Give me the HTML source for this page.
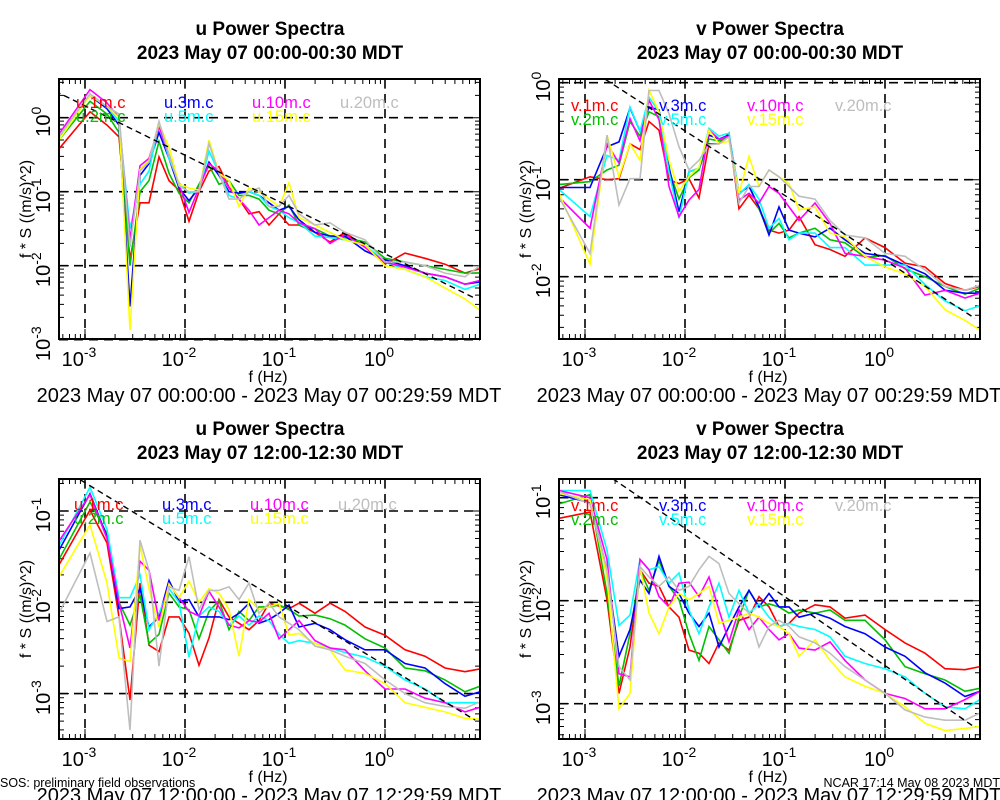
<!DOCTYPE html>
<html><head><meta charset="utf-8"><style>
html,body{margin:0;padding:0;background:#fff;}
svg{display:block;font-family:"Liberation Sans",sans-serif;}
</style></head><body>
<svg id="chart" width="1000" height="800" viewBox="0 0 1000 800" xmlns="http://www.w3.org/2000/svg"></svg>
<script>
// log10 frequency grid (Hz)
const logFreq = [-3.26,-2.95,-2.78,-2.66,-2.55,-2.45,-2.36,-2.26,-2.16,-2.06,-1.96,-1.86,-1.76,-1.66,-1.56,-1.46,-1.36,-1.26,-1.16,-1.06,-0.96,-0.86,-0.7,-0.55,-0.4,-0.2,0,0.2,0.4,0.6,0.8,0.95];
const heights = ["1m","2m","3m","5m","10m","15m","20m"];
// legend order
const legendOrder = ["1m","3m","10m","20m","2m","5m","15m"];
const seriesColors = {"1m":"#ff0000","2m":"#00c000","3m":"#0000ff","5m":"#00ffff","10m":"#ff00ff","15m":"#ffff00","20m":"#bebebe"};
const xTickExps = [-3,-2,-1,0];

// Panel 1: u 00:00 (log10 f*S)
const u0_1m  = [-0.42,0.08,-0.1,-0.26,-1.92,-1.15,-1.15,-0.53,-0.85,-0.98,-1.4,-1.0,-0.72,-0.66,-0.94,-1.1,-1.3,-1.27,-1.45,-1.3,-1.45,-1.45,-1.55,-1.68,-1.55,-1.75,-1.98,-1.83,-1.9,-1.98,-2.1,-2.04];
const u0_2m  = [-0.3,0.22,0.05,-0.2,-2.0,-1.0,-0.85,-0.32,-0.75,-1.02,-1.15,-0.9,-0.65,-0.9,-0.85,-1.05,-1.05,-1.1,-1.25,-1.3,-1.18,-1.45,-1.5,-1.6,-1.62,-1.68,-1.9,-1.95,-2.0,-2.05,-2.1,-2.1];
const u0_3m  = [-0.24,0.3,0.12,-0.1,-2.55,-0.78,-0.62,-0.2,-0.55,-0.95,-1.12,-0.95,-0.6,-0.78,-1.0,-1.02,-1.0,-1.05,-1.15,-1.25,-1.2,-1.38,-1.55,-1.6,-1.6,-1.8,-1.92,-2.0,-2.1,-2.15,-2.25,-2.22];
const u0_5m  = [-0.26,0.32,0.15,-0.05,-1.5,-0.9,-0.72,-0.08,-0.55,-0.88,-1.02,-1.0,-0.45,-0.75,-1.05,-1.1,-1.0,-1.05,-1.2,-1.25,-1.35,-1.42,-1.6,-1.62,-1.65,-1.72,-1.95,-2.05,-2.15,-2.2,-2.32,-2.25];
const u0_10m = [-0.22,0.38,0.2,0.0,-1.65,-0.65,-0.55,-0.12,-0.5,-0.9,-1.28,-0.95,-0.62,-0.72,-0.95,-1.1,-1.25,-1.45,-1.35,-1.25,-1.3,-1.42,-1.5,-1.7,-1.58,-1.75,-1.95,-2.02,-2.1,-2.15,-2.25,-2.2];
const u0_15m = [-0.3,0.3,0.15,0.0,-2.87,-0.7,-0.58,-0.08,-0.4,-0.9,-0.95,-0.98,-0.3,-0.75,-0.85,-1.2,-0.95,-1.0,-1.1,-1.2,-0.88,-1.35,-1.45,-1.55,-1.65,-1.72,-2.0,-2.05,-2.15,-2.3,-2.45,-2.6];
const u0_20m = [-0.25,0.32,0.15,0.05,-1.75,-0.72,-0.6,-0.05,-0.5,-0.92,-1.0,-1.0,-0.35,-0.75,-1.1,-1.1,-1.0,-0.95,-1.2,-1.2,-1.05,-1.3,-1.45,-1.42,-1.55,-1.65,-1.95,-1.95,-2.0,-2.1,-2.15,-2.0];

// Panel 2: v 00:00
const v0_1m  = [-1.09,-0.97,-1.0,-0.99,-0.63,-0.69,-0.4,-0.49,-1.0,-1.04,-0.99,-1.19,-0.63,-0.63,-0.52,-1.3,-1.16,-1.3,-1.52,-1.55,-1.52,-1.38,-1.67,-1.72,-1.79,-1.6,-1.7,-1.86,-1.9,-2.07,-2.14,-2.1];
const v0_2m  = [-1.05,-1.02,-0.9,-0.85,-0.4,-0.55,-0.3,-0.35,-0.9,-1.2,-0.98,-0.9,-0.58,-0.6,-0.55,-1.15,-1.05,-1.3,-1.55,-1.45,-1.6,-1.55,-1.5,-1.62,-1.65,-1.8,-1.78,-1.92,-2.0,-2.1,-2.18,-2.12];
const v0_3m  = [-1.08,-1.08,-0.66,-0.61,-0.26,-0.5,-0.25,-0.28,-0.87,-1.33,-0.92,-0.88,-0.54,-0.58,-0.54,-1.14,-1.07,-1.28,-1.57,-1.28,-1.52,-1.55,-1.59,-1.5,-1.62,-1.76,-1.79,-1.88,-1.97,-2.14,-2.17,-2.17];
const v0_5m  = [-1.1,-1.38,-0.75,-0.8,-0.25,-0.5,-0.15,-0.3,-0.92,-1.4,-0.92,-0.88,-0.47,-0.55,-0.52,-1.15,-1.05,-1.2,-1.5,-1.4,-1.62,-1.55,-1.55,-1.7,-1.7,-1.88,-1.88,-1.88,-2.08,-2.25,-2.35,-2.3];
const v0_10m = [-1.18,-1.5,-0.63,-0.83,-0.37,-0.6,-0.18,-0.38,-1.07,-1.38,-1.21,-1.1,-0.49,-0.58,-0.55,-1.21,-1.14,-1.24,-1.07,-1.14,-1.28,-1.42,-1.24,-1.45,-1.76,-1.79,-1.83,-1.91,-2.19,-2.14,-2.22,-2.17];
const v0_15m = [-1.14,-1.87,-0.54,-0.97,-0.63,-0.8,-0.08,-0.3,-0.8,-1.12,-0.97,-0.87,-0.49,-0.63,-0.6,-1.14,-0.76,-1.07,-0.9,-0.97,-1.04,-1.31,-1.28,-1.55,-1.59,-1.79,-1.9,-1.97,-2.1,-2.34,-2.45,-2.55];
const v0_20m = [-1.18,-1.76,-0.54,-1.26,-0.99,-0.99,-0.08,-0.08,-0.32,-0.66,-0.9,-0.8,-0.64,-0.63,-0.56,-1.24,-1.07,-1.07,-0.9,-0.97,-1.07,-1.17,-1.2,-1.42,-1.57,-1.6,-1.76,-1.79,-1.93,-2.1,-2.14,-2.09];

// Panel 3: u 12:00
const u12_1m  = [-1.59,-0.99,-1.35,-2.16,-3.07,-1.79,-2.47,-2.54,-2.16,-2.16,-2.34,-2.69,-2.39,-1.97,-2.16,-2.23,-2.3,-2.2,-2.01,-2.04,-2.07,-2.01,-2.12,-2.01,-2.1,-2.27,-2.36,-2.52,-2.59,-2.72,-2.76,-2.73];
const u12_2m  = [-1.53,-0.9,-1.25,-2.0,-2.25,-1.92,-2.45,-2.35,-1.9,-2.05,-2.08,-2.4,-2.1,-1.98,-2.3,-2.1,-2.2,-2.05,-2.05,-2.03,-2.08,-2.15,-2.14,-2.18,-2.25,-2.4,-2.5,-2.72,-2.75,-2.85,-2.98,-2.92];
const u12_3m  = [-1.43,-0.81,-1.28,-2.07,-2.05,-1.85,-2.27,-2.16,-1.76,-1.99,-1.97,-2.16,-2.16,-2.16,-2.19,-2.12,-2.01,-2.23,-2.19,-2.12,-2.03,-2.27,-2.23,-2.3,-2.41,-2.52,-2.52,-2.67,-2.72,-2.89,-3.03,-2.98];
const u12_5m  = [-1.38,-0.74,-1.2,-1.95,-1.95,-1.7,-2.3,-2.12,-1.85,-2.0,-2.6,-2.15,-2.05,-2.1,-2.25,-2.15,-2.25,-2.15,-2.2,-2.35,-2.45,-2.42,-2.45,-2.5,-2.55,-2.6,-2.7,-2.85,-2.95,-3.1,-3.1,-3.1];
const u12_10m = [-1.33,-0.82,-1.3,-2.0,-2.5,-1.55,-1.65,-2.2,-1.8,-1.95,-2.1,-2.15,-1.88,-2.05,-2.25,-2.28,-2.2,-2.22,-2.12,-2.4,-2.3,-2.2,-2.42,-2.5,-2.52,-2.75,-2.95,-2.95,-3.05,-3.1,-3.2,-3.15];
const u12_15m = [-1.72,-1.15,-1.79,-2.61,-2.65,-1.37,-1.85,-2.27,-1.8,-1.95,-1.77,-2.0,-1.85,-1.9,-2.08,-2.59,-1.97,-2.08,-2.05,-2.01,-2.36,-2.34,-2.45,-2.52,-2.74,-2.78,-2.89,-3.1,-3.15,-3.2,-3.27,-3.28];
const u12_20m = [-2.12,-1.46,-2.21,-2.16,-3.4,-1.32,-1.65,-2.7,-1.83,-1.87,-1.5,-2.08,-1.87,-1.87,-1.83,-1.97,-1.79,-2.12,-2.01,-2.16,-2.23,-2.3,-2.48,-2.52,-2.59,-2.67,-2.85,-3.0,-3.1,-3.14,-3.16,-3.09];

// Panel 4: v 12:00
const v12_1m  = [-1.2,-1.14,-1.99,-2.9,-2.45,-1.7,-1.83,-1.86,-2.06,-2.16,-2.48,-2.51,-2.61,-2.41,-2.48,-2.19,-2.16,-1.96,-2.06,-2.25,-2.22,-2.12,-2.04,-2.06,-2.17,-2.14,-2.28,-2.41,-2.51,-2.66,-2.67,-2.64];
const v12_2m  = [-1.06,-0.97,-1.93,-2.83,-2.32,-1.7,-1.9,-1.61,-1.86,-1.99,-2.32,-2.58,-2.25,-2.38,-2.51,-2.16,-1.9,-2.06,-2.03,-2.06,-2.12,-2.09,-2.12,-2.09,-2.19,-2.19,-2.38,-2.64,-2.71,-2.77,-2.88,-2.85];
const v12_3m  = [-0.97,-1.05,-1.7,-2.54,-2.28,-1.8,-1.93,-1.57,-1.86,-1.93,-2.12,-2.25,-2.12,-2.45,-2.25,-2.06,-1.9,-2.06,-1.93,-2.06,-2.06,-2.16,-2.12,-2.17,-2.25,-2.32,-2.45,-2.54,-2.7,-2.8,-2.93,-2.88];
const v12_5m  = [-0.93,-0.93,-1.51,-2.24,-2.14,-1.6,-1.7,-1.67,-1.83,-1.73,-2.09,-2.32,-2.06,-1.83,-2.16,-1.9,-2.12,-2.03,-2.16,-2.25,-2.22,-2.25,-2.28,-2.35,-2.54,-2.61,-2.66,-2.74,-2.9,-3.03,-3.05,-2.96];
const v12_10m = [-0.93,-1.0,-1.6,-2.71,-2.74,-1.6,-1.7,-1.96,-2.06,-1.83,-1.82,-1.96,-1.77,-2.09,-2.4,-2.09,-2.28,-2.16,-2.28,-2.38,-2.32,-2.46,-2.48,-2.4,-2.58,-2.77,-2.9,-2.95,-3.05,-3.05,-2.96,-2.88];
const v12_15m = [-0.96,-1.02,-1.77,-3.05,-2.9,-1.67,-2.12,-2.32,-2.06,-1.93,-1.99,-1.93,-1.86,-2.22,-2.19,-2.16,-2.12,-2.16,-2.22,-2.25,-2.32,-2.54,-2.38,-2.58,-2.74,-2.83,-2.9,-3.03,-3.19,-3.26,-3.24,-3.22];
const v12_20m = [-0.94,-1.06,-1.7,-2.64,-2.77,-1.67,-1.77,-1.86,-1.77,-1.9,-1.86,-1.7,-1.57,-1.64,-1.93,-2.03,-2.12,-2.45,-2.25,-2.19,-2.25,-2.35,-2.41,-2.51,-2.64,-2.77,-2.9,-3.06,-3.13,-3.16,-3.16,-3.09];

const panelSeries = [
  {"1m":u0_1m,"2m":u0_2m,"3m":u0_3m,"5m":u0_5m,"10m":u0_10m,"15m":u0_15m,"20m":u0_20m},
  {"1m":v0_1m,"2m":v0_2m,"3m":v0_3m,"5m":v0_5m,"10m":v0_10m,"15m":v0_15m,"20m":v0_20m},
  {"1m":u12_1m,"2m":u12_2m,"3m":u12_3m,"5m":u12_5m,"10m":u12_10m,"15m":u12_15m,"20m":u12_20m},
  {"1m":v12_1m,"2m":v12_2m,"3m":v12_3m,"5m":v12_5m,"10m":v12_10m,"15m":v12_15m,"20m":v12_20m}
];
const panelVar = ["u","v","u","v"];
const panelTitle2 = ["2023 May 07 00:00-00:30 MDT","2023 May 07 00:00-00:30 MDT","2023 May 07 12:00-12:30 MDT","2023 May 07 12:00-12:30 MDT"];
const panelRange = ["2023 May 07 00:00:00 - 2023 May 07 00:29:59 MDT","2023 May 07 00:00:00 - 2023 May 07 00:29:59 MDT","2023 May 07 12:00:00 - 2023 May 07 12:29:59 MDT","2023 May 07 12:00:00 - 2023 May 07 12:29:59 MDT"];
const yTickExps = [[0,-1,-2,-3],[0,-1,-2],[-1,-2,-3],[-1,-2,-3]];
const refIntercept = [-1.84,-1.83,-2.69,-2.63]; // log10 of f^-2/3 reference at f=1

// layout (not data)
const layouts = [
  {L:59,R:480,T:79,B:339,x0:85,y0:117.7,ppd:74,leg:[76,108]},
  {L:559,R:980,T:79,B:339,x0:585,y0:82.7,ppd:97,leg:[571,111]},
  {L:59,R:480,T:479,B:739,x0:85,y0:419.7,ppd:91.3,leg:[74,510]},
  {L:559,R:980,T:479,B:739,x0:585,y0:394.7,ppd:103,leg:[571,511]}
];
const NS="http://www.w3.org/2000/svg";
const svg=document.getElementById('chart');
function mk(tag,attrs,parent){const e=document.createElementNS(NS,tag);for(const k in attrs)e.setAttribute(k,attrs[k]);(parent||svg).appendChild(e);return e;}

layouts.forEach((lay,p)=>{
  const xs=lf=>lay.x0+100*(lf+3);
  const ys=lv=>lay.y0-lv*lay.ppd;
  const g=mk('g',{});
  
  
  const tOff=lay.T-79;
  const t1=mk('text',{x:270+(p%2)*500,y:35+tOff,'text-anchor':'middle','font-size':'19','font-weight':'bold'},g);
  t1.textContent=panelVar[p]+' Power Spectra';
  
  
  const t2=mk('text',{x:270+(p%2)*500,y:59+tOff,'text-anchor':'middle','font-size':'19','font-weight':'bold'},g);
  t2.textContent=panelTitle2[p];
  
  
  const clipId='clip'+p;
  const cp=mk('clipPath',{id:clipId},g);
  mk('rect',{x:lay.L,y:lay.T,width:lay.R-lay.L,height:lay.B-lay.T},cp);
  // grid
  xTickExps.forEach(e=>{
    const gl=mk('line',{x1:xs(e),x2:xs(e),y1:lay.T,y2:lay.B,stroke:'#000','stroke-width':1.6,'stroke-dasharray':'9,6'},g);
    
    
    const tl=mk('text',{x:xs(e)-6,y:lay.B+27,'text-anchor':'middle','font-size':'20'},g);
    tl.innerHTML='10<tspan dy="-9" font-size="14">'+e+'</tspan>';
    
    
  });
  yTickExps[p].forEach(e=>{
    const y=ys(e);
    const gl=mk('line',{x1:lay.L,x2:lay.R,y1:y,y2:y,stroke:'#000','stroke-width':1.6,'stroke-dasharray':'9,6'},g);
    
    
    const tl=mk('text',{x:0,y:0,'text-anchor':'middle','font-size':'20',transform:'translate('+(lay.L-9)+','+(y+4)+') rotate(-90)'},g);
    tl.innerHTML='10<tspan dy="-9" font-size="14">'+e+'</tspan>';
    
    
  });
  // minor/major ticks
  let tk='';
  for(let d=-4;d<=1;d++){for(let m=1;m<=9;m++){const x=xs(d+Math.log10(m));if(x<lay.L||x>lay.R)continue;const len=m===1?10:5;tk+=`M${x},${lay.B}v${-len}M${x},${lay.T}v${len}`;}}
  for(let d=-5;d<=1;d++){for(let m=1;m<=9;m++){const y=ys(d+Math.log10(m));if(y<lay.T||y>lay.B)continue;const len=m===1?10:5;tk+=`M${lay.L},${y}h${len}M${lay.R},${y}h${-len}`;}}
  const tp=mk('path',{d:tk,stroke:'#000','stroke-width':1,fill:'none'},g);
  
  
  // series
  const ser=panelSeries[p];
  heights.forEach(h=>{
    const vals=ser[h];
    const d=vals.map((v,i)=>(i?'L':'M')+xs(logFreq[i]).toFixed(1)+','+ys(v).toFixed(1)).join('');
    const pl=mk('path',{d:d,stroke:seriesColors[h],'stroke-width':1.6,fill:'none','clip-path':'url(#'+clipId+')'},g);
    
    
  });
  // reference line f^-2/3
  const a=refIntercept[p];
  const rl=mk('line',{x1:xs(-3.3),y1:ys(a+2.2),x2:xs(0.9),y2:ys(a-0.6),stroke:'#000','stroke-width':1.4,'stroke-dasharray':'6,4','clip-path':'url(#'+clipId+')'},g);
  
  
  // legend
  legendOrder.forEach((h,i)=>{
    const col=i<4?i:i-4, row=i<4?0:1;
    const lt=mk('text',{x:lay.leg[0]+col*88,y:lay.leg[1]+row*14,'font-size':'16.5',fill:seriesColors[h]},g);
    lt.textContent=panelVar[p]+'.'+h+'.c';
    
    
  });
  // frame
  const fr=mk('rect',{x:lay.L,y:lay.T,width:lay.R-lay.L,height:lay.B-lay.T,fill:'none',stroke:'#000','stroke-width':2},g);
  
  
  // axis titles
  const yl=mk('text',{x:0,y:0,'text-anchor':'middle','font-size':'16',transform:'translate('+(lay.L-28)+','+((lay.T+lay.B)/2)+') rotate(-90)'},g);
  yl.textContent='f * S ((m/s)^2)';
  
  
  const xl=mk('text',{x:lay.x0+183,y:lay.B+43,'text-anchor':'middle','font-size':'16'},g);
  xl.textContent='f (Hz)';
  
  
  const rg=mk('text',{x:lay.L+210,y:lay.B+63,'text-anchor':'middle','font-size':'20'},g);
  rg.textContent=panelRange[p];
  
  
});
const f1=mk('text',{x:0,y:787,'font-size':'12.5'});
f1.textContent='SOS: preliminary field observations';


const f2=mk('text',{x:1000,y:787,'font-size':'12.5','text-anchor':'end'});
f2.textContent='NCAR 17:14 May 08 2023 MDT';


</script>
</body></html>
